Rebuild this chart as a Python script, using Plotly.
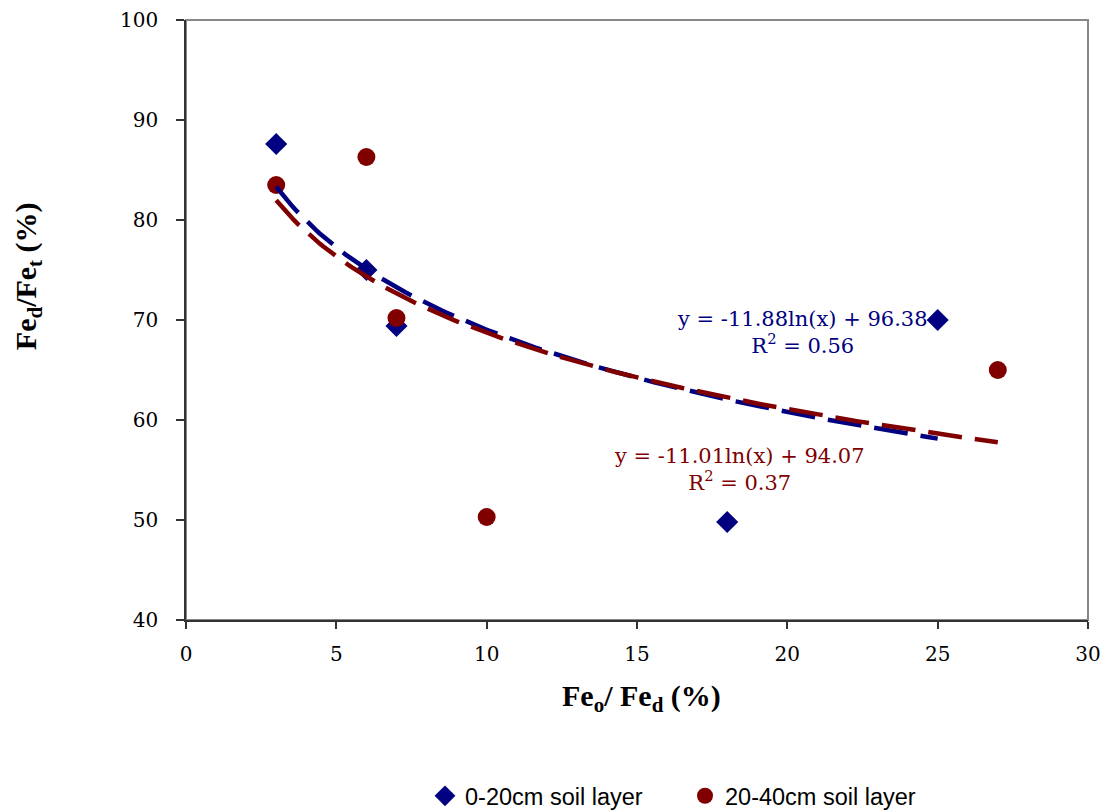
import numpy as np
import plotly.graph_objects as go

# Fe_o/Fe_d (%) vs Fe_d/Fe_t (%) for two soil layers
x_top = [3, 6, 7, 18, 25]
y_top = [87.6, 75.0, 69.4, 49.8, 70.0]
x_sub = [3, 6, 7, 10, 27]
y_sub = [83.5, 86.3, 70.2, 50.3, 65.0]

# logarithmic trendlines: y = a*ln(x) + b
fit_top = {"a": -11.88, "b": 96.38, "r2": 0.56}
fit_sub = {"a": -11.01, "b": 94.07, "r2": 0.37}

NAVY = "#000080"
MAROON = "#800000"
SERIF = "DejaVu Serif"
TITLE_FONT = "Liberation Serif"


def trend(xs, fit):
    xx = np.linspace(min(xs), max(xs), 200)
    return xx, fit["a"] * np.log(xx) + fit["b"]


fig = go.Figure()

fig.add_trace(go.Scatter(
    x=x_top, y=y_top, mode="markers", name="0-20cm soil layer",
    marker=dict(symbol="diamond", size=17, color=NAVY),
))
fig.add_trace(go.Scatter(
    x=x_sub, y=y_sub, mode="markers", name="20-40cm soil layer",
    marker=dict(symbol="circle", size=18, color=MAROON),
))

tx, ty = trend(x_top, fit_top)
fig.add_trace(go.Scatter(
    x=tx, y=ty, mode="lines", showlegend=False, hoverinfo="skip",
    line=dict(color=NAVY, width=4.5, dash="34px,13px"),
))
sx, sy = trend(x_sub, fit_sub)
fig.add_trace(go.Scatter(
    x=sx, y=sy, mode="lines", showlegend=False, hoverinfo="skip",
    line=dict(color=MAROON, width=4.5, dash="34px,13px"),
))


def eq_text(fit):
    return (f"y = {fit['a']:.2f}ln(x) + {fit['b']:.2f}<br>"
            f"R<sup>2</sup> = {fit['r2']:.2f}")


fig.add_annotation(x=20.5, y=68.75, xref="x", yref="y", text=eq_text(fit_top),
                   showarrow=False, align="center",
                   font=dict(family=SERIF, size=21, color=NAVY))
fig.add_annotation(x=18.4, y=55.1, xref="x", yref="y", text=eq_text(fit_sub),
                   showarrow=False, align="center",
                   font=dict(family=SERIF, size=21, color=MAROON))

# grey plot-area frame
fig.add_shape(type="rect", xref="paper", yref="paper", x0=0, y0=0, x1=1, y1=1,
              line=dict(color="#888888", width=2), layer="below")

# axis titles
fig.add_annotation(xref="paper", yref="paper", x=0.505, y=0, yshift=-78,
                   text="<b>Fe<sub>o</sub>/ Fe<sub>d</sub> (%)</b>", showarrow=False,
                   yanchor="middle", font=dict(family=TITLE_FONT, size=30, color="black"))
fig.add_annotation(xref="paper", yref="paper", x=0, xshift=-158, y=0.573,
                   text="<b>Fe<sub>d</sub>/Fe<sub>t</sub> (%)</b>", showarrow=False,
                   textangle=-90, xanchor="center", yanchor="middle",
                   font=dict(family=TITLE_FONT, size=30, color="black"))

axis_common = dict(
    showgrid=False, zeroline=False, showline=True, linecolor="#333333", linewidth=1.5,
    ticks="outside", tickcolor="#333333", tickwidth=1.5, automargin=False,
    tickfont=dict(family=SERIF, size=20, color="black"),
)

fig.update_xaxes(range=[0, 30], dtick=5, tick0=0, ticklen=7, ticklabelstandoff=8,
                 **axis_common)
fig.update_yaxes(range=[40, 100], dtick=10, tick0=40, ticklen=8, ticklabelstandoff=14,
                 **axis_common)

fig.update_layout(
    width=1108, height=811,
    margin=dict(l=186, r=20, t=20, b=191),
    plot_bgcolor="white", paper_bgcolor="white",
    showlegend=True,
    legend=dict(orientation="h", x=(425 - 186) / 902, xanchor="left",
                yref="container", y=(811 - 796) / 811, yanchor="middle",
                font=dict(family="Liberation Sans", size=23.5, color="black"),
                itemwidth=30, entrywidth=215, bgcolor="rgba(0,0,0,0)",
                borderwidth=0),
)

fig.write_html("out.html")
